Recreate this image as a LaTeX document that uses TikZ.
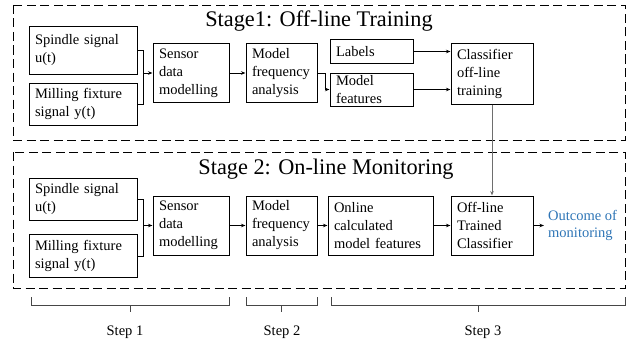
\documentclass[tikz,border=0pt]{standalone}
\usepackage{fontspec}
\setmainfont{Liberation Serif}
\usetikzlibrary{arrows.meta}
\definecolor{outblue}{RGB}{46,117,182}
\definecolor{linkgray}{RGB}{110,110,110}
\definecolor{bracegray}{RGB}{70,70,70}
\begin{document}
\begin{tikzpicture}[x=1pt,y=-1pt,
  box/.style={draw, line width=1pt, inner xsep=6pt, inner ysep=0pt, align=left,
    font=\fontsize{14.5}{18}\selectfont, anchor=center},
  conn/.style={line width=0.9pt},
  arr/.style={line width=0.9pt, -{Stealth[length=4.5pt,width=3.5pt]}},
  stagebox/.style={line width=0.8pt, dash pattern=on 9pt off 4.5pt},
  title/.style={font=\fontsize{22.3}{26}\selectfont, inner sep=0pt, anchor=base},
  steplbl/.style={font=\fontsize{14.5}{18}\selectfont, inner sep=0pt, anchor=base},
  bracestyle/.style={line width=0.8pt, draw=bracegray}]
\useasboundingbox (0,0) rectangle (644,345);

% stage frames
\draw[stagebox] (13,5) rectangle (625,140);
\draw[stagebox] (13,152) rectangle (625,288);
\node[title] (t1) at (319,27) {Stage1: Off-line Training};
\node[title] (t2) at (326,174) {Stage 2: On-line Monitoring};

% stage 1 boxes
\node[box, text width=96pt, minimum height=47pt] (sp1) at (83,50.5) {Spindle signal\\u(t)};
\node[box, text width=96pt, minimum height=42pt] (mi1) at (83,104) {Milling fixture\\signal y(t)};
\node[box, text width=64pt, minimum height=59pt] (sen1) at (191,73) {Sensor\\data\\modelling};
\node[box, text width=59pt, minimum height=59pt] (fr1) at (281.5,73) {Model\\frequency\\analysis};
\node[box, text width=71pt, minimum height=23pt] (lab) at (371.5,51.5) {Labels};
\node[box, text width=71pt, minimum height=33pt] (mf) at (371.5,89.5) {Model\\features};
\node[box, text width=70pt, minimum height=60pt] (cl1) at (492,74) {Classifier\\off-line\\training};

% stage 2 boxes
\node[box, text width=96pt, minimum height=42pt] (sp2) at (83,199) {Spindle signal\\u(t)};
\node[box, text width=96pt, minimum height=43pt] (mi2) at (83,256) {Milling fixture\\signal y(t)};
\node[box, text width=64pt, minimum height=59pt] (sen2) at (191,225.5) {Sensor\\data\\modelling};
\node[box, text width=59pt, minimum height=59pt] (fr2) at (281.5,225.5) {Model\\frequency\\analysis};
\node[box, text width=93pt, minimum height=59pt] (on2) at (380.5,225.5) {Online\\calculated\\model features};
\node[box, text width=70pt, minimum height=59pt] (cl2) at (492,225.5) {Off-line\\Trained\\Classifier};
\node[inner xsep=4pt, inner ysep=0pt, anchor=west, align=left, text=outblue,
  font=\fontsize{14.5}{17.5}\selectfont] (out) at (544,225.5) {Outcome of\\monitoring};

% stage 1 connectors
\coordinate (j1) at (143,0);
\draw[conn] (sp1.east) -| (j1 |- mi1.east) -- (mi1.east);
\draw[arr] (j1 |- sen1.west) -- (sen1.west);
\draw[arr] (sen1.east) -- (fr1.west);
\coordinate (j2) at (325,0);
\draw[arr] (fr1.east) -| (j2 |- mf.west) -- (mf.west);
\draw[arr] (lab.east) -- (lab.east -| cl1.west);
\draw[arr] (mf.east) -- (mf.east -| cl1.west);

% link between stages
\draw[arr, draw=linkgray, fill=linkgray, line width=1pt] (cl1.south) -- (cl2.north);

% stage 2 connectors
\coordinate (j3) at (143,0);
\draw[conn] (sp2.east) -| (j3 |- mi2.east) -- (mi2.east);
\draw[arr] (j3 |- sen2.west) -- (sen2.west);
\draw[arr] (sen2.east) -- (fr2.west);
\draw[arr] (fr2.east) -- (on2.west);
\draw[arr] (on2.east) -- (cl2.west);
\draw[arr] (cl2.east) -- (out.west);

% braces
\draw[bracestyle] (31,297) -- (31,305) -- (229,305) -- (229,297);
\draw[bracestyle] (130,305) -- (130,312);
\draw[bracestyle] (246,297) -- (246,305) -- (317,305) -- (317,297);
\draw[bracestyle] (281.5,305) -- (281.5,312);
\draw[bracestyle] (331,297) -- (331,305) -- (625,305) -- (625,297);
\draw[bracestyle] (478,305) -- (478,312);
\node[steplbl] (s1) at (125,335) {Step 1};
\node[steplbl] (s2) at (282,335) {Step 2};
\node[steplbl] (s3) at (483,335) {Step 3};
\end{tikzpicture}
\end{document}
